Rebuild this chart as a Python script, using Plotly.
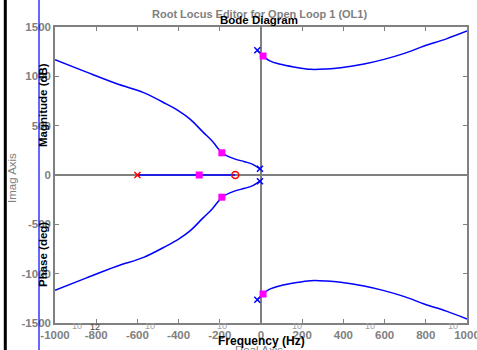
import plotly.graph_objects as go

# ---- data ----
upper_left_x = [-1000, -850, -700, -570, -460, -400, -343, -280, -237, -205, -190, -132, -80, -40, -5]
upper_left_y = [1169, 1045, 925, 835, 720, 650, 564, 432, 344, 260, 225, 166, 135, 108, 63]
upper_right_x = [-18, 10, 40, 95, 160, 241, 320, 387, 500, 597, 700, 792, 900, 1000]
upper_right_y = [1265, 1206, 1160, 1122, 1095, 1071, 1075, 1088, 1125, 1172, 1235, 1307, 1380, 1459]
real_branch_x = [-600, -125]
real_branch_y = [0, 0]

complex_pole_x = [-5, -5, -18, -18]
complex_pole_y = [63, -63, 1265, -1265]
real_pole_x = [-600]
real_pole_y = [0]
zero_x = [-125]
zero_y = [0]
closed_loop_x = [-190, -190, 10, 10, -300]
closed_loop_y = [225, -225, 1206, -1206, 0]

x_ticks = [-1000, -800, -600, -400, -200, 0, 200, 400, 600, 800, 1000]
y_ticks = [-1500, -1000, -500, 0, 500, 1000, 1500]

W, H = 477, 350
L, R, T, B = 55, 10, 27, 27
PW, PH = W - L - R, H - T - B


def px(x):
    return (x - L) / PW


def py(y):
    return (H - B - y) / PH


BLUE = "#0000ff"
GRAY = "#808080"
FONT = "Liberation Sans, Arial, sans-serif"

fig = go.Figure()

for bx, by in [(upper_left_x, upper_left_y),
               (upper_left_x, [-v for v in upper_left_y]),
               (upper_right_x, upper_right_y),
               (upper_right_x, [-v for v in upper_right_y]),
               (real_branch_x, real_branch_y)]:
    fig.add_trace(go.Scatter(x=bx, y=by, mode="lines", line=dict(color=BLUE, width=1.5),
                             line_shape="spline", hoverinfo="skip", showlegend=False))

fig.add_trace(go.Scatter(x=complex_pole_x, y=complex_pole_y, mode="markers",
                         marker=dict(symbol="x-thin", size=6, line=dict(color=BLUE, width=1.5)),
                         showlegend=False))
fig.add_trace(go.Scatter(x=real_pole_x, y=real_pole_y, mode="markers",
                         marker=dict(symbol="x-thin", size=6, line=dict(color="#ff0000", width=1.5)),
                         showlegend=False))
fig.add_trace(go.Scatter(x=zero_x, y=zero_y, mode="markers",
                         marker=dict(symbol="circle-open", size=7, color="#ff0000",
                                     line=dict(color="#ff0000", width=1.5)),
                         showlegend=False))
fig.add_trace(go.Scatter(x=closed_loop_x, y=closed_loop_y, mode="markers",
                         marker=dict(symbol="square", size=7, color="#ff00ff"),
                         showlegend=False))

axis_common = dict(showgrid=False, showline=True, linecolor=GRAY, linewidth=1.5, mirror="ticks",
                   ticks="inside", ticklen=4, tickcolor=GRAY, tickwidth=1,
                   zeroline=True, zerolinecolor=GRAY, zerolinewidth=1.5,
                   ticklabeloverflow="allow", automargin=False,
                   tickfont=dict(family=FONT, size=11.5, color=GRAY, weight="bold"))

fig.update_xaxes(range=[-1000, 1000], tickvals=x_ticks, ticktext=[str(v) for v in x_ticks],
                 **axis_common)
fig.update_yaxes(range=[-1500, 1500], tickvals=y_ticks, ticktext=[str(v) for v in y_ticks],
                 **axis_common)

ann = []


def text(t, x, y, size, color, bold=True, angle=0):
    ann.append(dict(text=t, x=px(x), y=py(y), xref="paper", yref="paper", showarrow=False,
                    xanchor="center", yanchor="middle", textangle=angle,
                    font=dict(family=FONT, size=size, color=color,
                              weight="bold" if bold else "normal")))


text("Root Locus Editor for Open Loop 1 (OL1)", 259.5, 14, 11, GRAY)
text("Bode Diagram", 259, 20, 11.5, "#000000")
text("Imag Axis", 12, 178, 11.5, GRAY, bold=False, angle=-90)
text("Magnitude (dB)", 43, 105, 11.5, "#000000", angle=-90)
text("Phase (deg)", 43, 255, 11.5, "#000000", angle=-90)
text("Real Axis", 259, 350, 11.5, GRAY, bold=False)
text("Frequency (Hz)", 261, 341, 12, "#000000")
for xp in [77, 150, 222, 297, 370, 453]:
    text("10", xp, 326, 9, "#a0a0a0", bold=False)
text("12", 95, 327, 9, "#404040", bold=False)

shapes = [
    dict(type="line", xref="paper", yref="paper", x0=px(5.3), x1=px(5.3), y0=py(H + 5), y1=py(-5),
         line=dict(color="#000000", width=3)),
    dict(type="line", xref="paper", yref="paper", x0=px(39), x1=px(39), y0=py(H + 5), y1=py(-5),
         line=dict(color=BLUE, width=1.2)),
]

fig.update_layout(width=W, height=H, margin=dict(l=L, r=R, t=T, b=B, autoexpand=False),
                  plot_bgcolor="white", paper_bgcolor="white",
                  annotations=ann, shapes=shapes, showlegend=False)

fig.write_html("out.html", config={"displayModeBar": False},
               post_script="document.body.style.margin='0';document.body.style.overflow='hidden';")
